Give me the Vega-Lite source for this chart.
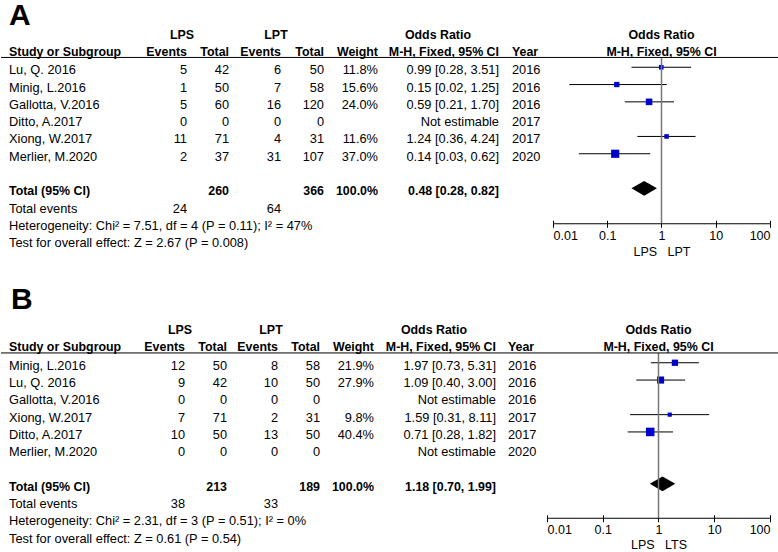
{
"$schema":"https://vega.github.io/schema/vega-lite/v6.json",
"background":"white",
"padding":{"left":0,"top":1,"right":0,"bottom":0},
"spacing":25.5,
"datasets":{
"A":[
{"label":"Lu, Q. 2016","kind":"study","e1":5,"n1":42,"e2":6,"n2":50,"weight":0.118,"or":0.99,"lo":0.28,"hi":3.51,"year":2016},
{"label":"Minig, L.2016","kind":"study","e1":1,"n1":50,"e2":7,"n2":58,"weight":0.156,"or":0.15,"lo":0.02,"hi":1.25,"year":2016},
{"label":"Gallotta, V.2016","kind":"study","e1":5,"n1":60,"e2":16,"n2":120,"weight":0.24,"or":0.59,"lo":0.21,"hi":1.70,"year":2016},
{"label":"Ditto, A.2017","kind":"study","e1":0,"n1":0,"e2":0,"n2":0,"year":2017},
{"label":"Xiong, W.2017","kind":"study","e1":11,"n1":71,"e2":4,"n2":31,"weight":0.116,"or":1.24,"lo":0.36,"hi":4.24,"year":2017},
{"label":"Merlier, M.2020","kind":"study","e1":2,"n1":37,"e2":31,"n2":107,"weight":0.37,"or":0.14,"lo":0.03,"hi":0.62,"year":2020},
{"label":"Total (95% CI)","kind":"total","n1":260,"n2":366,"weight":1.0,"or":0.48,"lo":0.28,"hi":0.82},
{"label":"Total events","kind":"events","e1":24,"e2":64},
{"label":"Heterogeneity: Chi² = 7.51, df = 4 (P = 0.11); I² = 47%","kind":"note"},
{"label":"Test for overall effect: Z = 2.67 (P = 0.008)","kind":"note"}
],
"B":[
{"label":"Minig, L.2016","kind":"study","e1":12,"n1":50,"e2":8,"n2":58,"weight":0.219,"or":1.97,"lo":0.73,"hi":5.31,"year":2016},
{"label":"Lu, Q. 2016","kind":"study","e1":9,"n1":42,"e2":10,"n2":50,"weight":0.279,"or":1.09,"lo":0.40,"hi":3.00,"year":2016},
{"label":"Gallotta, V.2016","kind":"study","e1":0,"n1":0,"e2":0,"n2":0,"year":2016},
{"label":"Xiong, W.2017","kind":"study","e1":7,"n1":71,"e2":2,"n2":31,"weight":0.098,"or":1.59,"lo":0.31,"hi":8.11,"year":2017},
{"label":"Ditto, A.2017","kind":"study","e1":10,"n1":50,"e2":13,"n2":50,"weight":0.404,"or":0.71,"lo":0.28,"hi":1.82,"year":2017},
{"label":"Merlier, M.2020","kind":"study","e1":0,"n1":0,"e2":0,"n2":0,"year":2020},
{"label":"Total (95% CI)","kind":"total","n1":213,"n2":189,"weight":1.0,"or":1.18,"lo":0.70,"hi":1.99},
{"label":"Total events","kind":"events","e1":38,"e2":33},
{"label":"Heterogeneity: Chi² = 2.31, df = 3 (P = 0.51); I² = 0%","kind":"note"},
{"label":"Test for overall effect: Z = 0.61 (P = 0.54)","kind":"note"}
]
},
"vconcat":[
{"spacing":0,"bounds":"flush","hconcat":[
{"width":140,"height":224.9,"data":{"name":"A"},
 "encoding":{"y":{"field":"label","type":"nominal","axis":null,"scale":{"type":"point","padding":0.5,"domain":["h1","h2","Lu, Q. 2016","Minig, L.2016","Gallotta, V.2016","Ditto, A.2017","Xiong, W.2017","Merlier, M.2020","blank","Total (95% CI)","Total events","Heterogeneity: Chi² = 7.51, df = 4 (P = 0.11); I² = 47%","Test for overall effect: Z = 2.67 (P = 0.008)"]}}},
 "layer":[
  {"transform":[{"filter":"datum.kind != 'total'"}],"mark":{"type":"text","align":"left","dx":3},"encoding":{"x":{"datum":0,"type":"quantitative","scale":{"domain":[0,1]},"axis":null},"text":{"field":"label"}}},
  {"transform":[{"filter":"datum.kind == 'total'"}],"mark":{"type":"text","align":"left","dx":3,"fontWeight":"bold","fontSize":12.4},"encoding":{"x":{"datum":0,"type":"quantitative","axis":null},"text":{"field":"label"}}},
  {"data":{"values":[{}]},"mark":{"type":"text","align":"left","dx":3,"dy":-1,"fontWeight":"bold","fontSize":12.4},"encoding":{"x":{"datum":0,"type":"quantitative","axis":null},"y":{"datum":"h2","type":"nominal"},"text":{"value":"Study or Subgroup"}}},
  {"data":{"values":[{}]},"mark":{"type":"text","align":"left","dx":3,"dy":-19.4,"fontWeight":"bold","fontSize":30},"encoding":{"x":{"datum":0,"type":"quantitative","axis":null},"y":{"datum":"h1","type":"nominal"},"text":{"value":"A"}}},
  {"data":{"values":[{}]},"mark":{"type":"rule","color":"#000","strokeWidth":1,"yOffset":4.5,"xOffset":-5},"encoding":{"x":{"datum":0,"type":"quantitative","axis":null},"x2":{"datum":1},"y":{"datum":"h2","type":"nominal"}}}
 ]},
{"width":41,"height":224.9,"data":{"name":"A"},
 "encoding":{"y":{"field":"label","type":"nominal","axis":null,"scale":{"type":"point","padding":0.5,"domain":["h1","h2","Lu, Q. 2016","Minig, L.2016","Gallotta, V.2016","Ditto, A.2017","Xiong, W.2017","Merlier, M.2020","blank","Total (95% CI)","Total events","Heterogeneity: Chi² = 7.51, df = 4 (P = 0.11); I² = 47%","Test for overall effect: Z = 2.67 (P = 0.008)"]}}},
 "layer":[
  {"transform":[{"filter":"isValid(datum.e1)"}],"mark":{"type":"text","align":"right"},"encoding":{"x":{"datum":1,"type":"quantitative","scale":{"domain":[0,1]},"axis":null},"text":{"field":"e1","type":"nominal"}}},
  {"data":{"values":[{}]},"mark":{"type":"text","align":"right","dy":-1,"fontWeight":"bold","fontSize":12.4},"encoding":{"x":{"datum":1,"type":"quantitative","axis":null},"y":{"datum":"h2","type":"nominal"},"text":{"value":"Events"}}},
  {"data":{"values":[{}]},"mark":{"type":"text","align":"center","dx":-5,"dy":-1,"fontWeight":"bold","fontSize":12.4},"encoding":{"x":{"datum":1,"type":"quantitative","axis":null},"y":{"datum":"h1","type":"nominal"},"text":{"value":"LPS"}}},
  {"data":{"values":[{}]},"mark":{"type":"rule","color":"#000","strokeWidth":1,"yOffset":4.5},"encoding":{"y":{"datum":"h2","type":"nominal"}}}
 ]},
{"width":42,"height":224.9,"data":{"name":"A"},
 "encoding":{"y":{"field":"label","type":"nominal","axis":null,"scale":{"type":"point","padding":0.5,"domain":["h1","h2","Lu, Q. 2016","Minig, L.2016","Gallotta, V.2016","Ditto, A.2017","Xiong, W.2017","Merlier, M.2020","blank","Total (95% CI)","Total events","Heterogeneity: Chi² = 7.51, df = 4 (P = 0.11); I² = 47%","Test for overall effect: Z = 2.67 (P = 0.008)"]}}},
 "layer":[
  {"transform":[{"filter":"datum.kind == 'study'"}],"mark":{"type":"text","align":"right"},"encoding":{"x":{"datum":1,"type":"quantitative","scale":{"domain":[0,1]},"axis":null},"text":{"field":"n1","type":"nominal"}}},
  {"transform":[{"filter":"datum.kind == 'total'"}],"mark":{"type":"text","align":"right","fontWeight":"bold","fontSize":12.4},"encoding":{"x":{"datum":1,"type":"quantitative","axis":null},"text":{"field":"n1","type":"nominal"}}},
  {"data":{"values":[{}]},"mark":{"type":"text","align":"right","dy":-1,"fontWeight":"bold","fontSize":12.4},"encoding":{"x":{"datum":1,"type":"quantitative","axis":null},"y":{"datum":"h2","type":"nominal"},"text":{"value":"Total"}}},
  {"data":{"values":[{}]},"mark":{"type":"rule","color":"#000","strokeWidth":1,"yOffset":4.5},"encoding":{"y":{"datum":"h2","type":"nominal"}}}
 ]},
{"width":52,"height":224.9,"data":{"name":"A"},
 "encoding":{"y":{"field":"label","type":"nominal","axis":null,"scale":{"type":"point","padding":0.5,"domain":["h1","h2","Lu, Q. 2016","Minig, L.2016","Gallotta, V.2016","Ditto, A.2017","Xiong, W.2017","Merlier, M.2020","blank","Total (95% CI)","Total events","Heterogeneity: Chi² = 7.51, df = 4 (P = 0.11); I² = 47%","Test for overall effect: Z = 2.67 (P = 0.008)"]}}},
 "layer":[
  {"transform":[{"filter":"isValid(datum.e2)"}],"mark":{"type":"text","align":"right"},"encoding":{"x":{"datum":1,"type":"quantitative","scale":{"domain":[0,1]},"axis":null},"text":{"field":"e2","type":"nominal"}}},
  {"data":{"values":[{}]},"mark":{"type":"text","align":"right","dy":-1,"fontWeight":"bold","fontSize":12.4},"encoding":{"x":{"datum":1,"type":"quantitative","axis":null},"y":{"datum":"h2","type":"nominal"},"text":{"value":"Events"}}},
  {"data":{"values":[{}]},"mark":{"type":"text","align":"center","dx":-5,"dy":-1,"fontWeight":"bold","fontSize":12.4},"encoding":{"x":{"datum":1,"type":"quantitative","axis":null},"y":{"datum":"h1","type":"nominal"},"text":{"value":"LPT"}}},
  {"data":{"values":[{}]},"mark":{"type":"rule","color":"#000","strokeWidth":1,"yOffset":4.5},"encoding":{"y":{"datum":"h2","type":"nominal"}}}
 ]},
{"width":43,"height":224.9,"data":{"name":"A"},
 "encoding":{"y":{"field":"label","type":"nominal","axis":null,"scale":{"type":"point","padding":0.5,"domain":["h1","h2","Lu, Q. 2016","Minig, L.2016","Gallotta, V.2016","Ditto, A.2017","Xiong, W.2017","Merlier, M.2020","blank","Total (95% CI)","Total events","Heterogeneity: Chi² = 7.51, df = 4 (P = 0.11); I² = 47%","Test for overall effect: Z = 2.67 (P = 0.008)"]}}},
 "layer":[
  {"transform":[{"filter":"datum.kind == 'study'"}],"mark":{"type":"text","align":"right"},"encoding":{"x":{"datum":1,"type":"quantitative","scale":{"domain":[0,1]},"axis":null},"text":{"field":"n2","type":"nominal"}}},
  {"transform":[{"filter":"datum.kind == 'total'"}],"mark":{"type":"text","align":"right","fontWeight":"bold","fontSize":12.4},"encoding":{"x":{"datum":1,"type":"quantitative","axis":null},"text":{"field":"n2","type":"nominal"}}},
  {"data":{"values":[{}]},"mark":{"type":"text","align":"right","dy":-1,"fontWeight":"bold","fontSize":12.4},"encoding":{"x":{"datum":1,"type":"quantitative","axis":null},"y":{"datum":"h2","type":"nominal"},"text":{"value":"Total"}}},
  {"data":{"values":[{}]},"mark":{"type":"rule","color":"#000","strokeWidth":1,"yOffset":4.5},"encoding":{"y":{"datum":"h2","type":"nominal"}}}
 ]},
{"width":54,"height":224.9,"data":{"name":"A"},
 "encoding":{"y":{"field":"label","type":"nominal","axis":null,"scale":{"type":"point","padding":0.5,"domain":["h1","h2","Lu, Q. 2016","Minig, L.2016","Gallotta, V.2016","Ditto, A.2017","Xiong, W.2017","Merlier, M.2020","blank","Total (95% CI)","Total events","Heterogeneity: Chi² = 7.51, df = 4 (P = 0.11); I² = 47%","Test for overall effect: Z = 2.67 (P = 0.008)"]}}},
 "layer":[
  {"transform":[{"filter":"datum.kind == 'study' && isValid(datum.weight)"}],"mark":{"type":"text","align":"right"},"encoding":{"x":{"datum":1,"type":"quantitative","scale":{"domain":[0,1]},"axis":null},"text":{"field":"weight","type":"quantitative","format":".1%"}}},
  {"transform":[{"filter":"datum.kind == 'total'"}],"mark":{"type":"text","align":"right","fontWeight":"bold","fontSize":12.4},"encoding":{"x":{"datum":1,"type":"quantitative","axis":null},"text":{"field":"weight","type":"quantitative","format":".1%"}}},
  {"data":{"values":[{}]},"mark":{"type":"text","align":"right","dy":-1,"fontWeight":"bold","fontSize":12.4},"encoding":{"x":{"datum":1,"type":"quantitative","axis":null},"y":{"datum":"h2","type":"nominal"},"text":{"value":"Weight"}}},
  {"data":{"values":[{}]},"mark":{"type":"rule","color":"#000","strokeWidth":1,"yOffset":4.5},"encoding":{"y":{"datum":"h2","type":"nominal"}}}
 ]},
{"width":121,"height":224.9,"data":{"name":"A"},
 "encoding":{"y":{"field":"label","type":"nominal","axis":null,"scale":{"type":"point","padding":0.5,"domain":["h1","h2","Lu, Q. 2016","Minig, L.2016","Gallotta, V.2016","Ditto, A.2017","Xiong, W.2017","Merlier, M.2020","blank","Total (95% CI)","Total events","Heterogeneity: Chi² = 7.51, df = 4 (P = 0.11); I² = 47%","Test for overall effect: Z = 2.67 (P = 0.008)"]}}},
 "layer":[
  {"transform":[{"filter":"datum.kind == 'study'"},{"calculate":"isValid(datum.or) ? format(datum.or,'.2f') + ' [' + format(datum.lo,'.2f') + ', ' + format(datum.hi,'.2f') + ']' : 'Not estimable'","as":"ci"}],"mark":{"type":"text","align":"right"},"encoding":{"x":{"datum":1,"type":"quantitative","scale":{"domain":[0,1]},"axis":null},"text":{"field":"ci"}}},
  {"transform":[{"filter":"datum.kind == 'total'"},{"calculate":"format(datum.or,'.2f') + ' [' + format(datum.lo,'.2f') + ', ' + format(datum.hi,'.2f') + ']'","as":"ci"}],"mark":{"type":"text","align":"right","fontWeight":"bold","fontSize":12.4},"encoding":{"x":{"datum":1,"type":"quantitative","axis":null},"text":{"field":"ci"}}},
  {"data":{"values":[{}]},"mark":{"type":"text","align":"right","dy":-1,"fontWeight":"bold","fontSize":12.4},"encoding":{"x":{"datum":1,"type":"quantitative","axis":null},"y":{"datum":"h2","type":"nominal"},"text":{"value":"M-H, Fixed, 95% CI"}}},
  {"data":{"values":[{}]},"mark":{"type":"text","align":"right","dx":-28,"dy":-1,"fontWeight":"bold","fontSize":12.4},"encoding":{"x":{"datum":1,"type":"quantitative","axis":null},"y":{"datum":"h1","type":"nominal"},"text":{"value":"Odds Ratio"}}},
  {"data":{"values":[{}]},"mark":{"type":"rule","color":"#000","strokeWidth":1,"yOffset":4.5},"encoding":{"y":{"datum":"h2","type":"nominal"}}}
 ]},
{"width":54,"height":224.9,"data":{"name":"A"},
 "encoding":{"y":{"field":"label","type":"nominal","axis":null,"scale":{"type":"point","padding":0.5,"domain":["h1","h2","Lu, Q. 2016","Minig, L.2016","Gallotta, V.2016","Ditto, A.2017","Xiong, W.2017","Merlier, M.2020","blank","Total (95% CI)","Total events","Heterogeneity: Chi² = 7.51, df = 4 (P = 0.11); I² = 47%","Test for overall effect: Z = 2.67 (P = 0.008)"]}}},
 "layer":[
  {"transform":[{"filter":"datum.kind == 'study'"}],"mark":{"type":"text","align":"left","dx":13},"encoding":{"x":{"datum":0,"type":"quantitative","scale":{"domain":[0,1]},"axis":null},"text":{"field":"year","type":"nominal"}}},
  {"data":{"values":[{}]},"mark":{"type":"text","align":"left","dx":13,"dy":-1,"fontWeight":"bold","fontSize":12.4},"encoding":{"x":{"datum":0,"type":"quantitative","axis":null},"y":{"datum":"h2","type":"nominal"},"text":{"value":"Year"}}},
  {"data":{"values":[{}]},"mark":{"type":"rule","color":"#000","strokeWidth":1,"yOffset":4.5},"encoding":{"y":{"datum":"h2","type":"nominal"}}}
 ]},
{"width":217,"height":224.9,"data":{"name":"A"},
 "encoding":{"y":{"field":"label","type":"nominal","axis":null,"scale":{"type":"point","padding":0.5,"domain":["h1","h2","Lu, Q. 2016","Minig, L.2016","Gallotta, V.2016","Ditto, A.2017","Xiong, W.2017","Merlier, M.2020","blank","Total (95% CI)","Total events","Heterogeneity: Chi² = 7.51, df = 4 (P = 0.11); I² = 47%","Test for overall effect: Z = 2.67 (P = 0.008)"]}}},
 "resolve":{"axis":{"x":"independent"}},
 "layer":[
  {"transform":[{"filter":"datum.kind == 'study' && isValid(datum.or)"}],"mark":{"type":"rule","color":"#000","strokeWidth":1,"yOffset":-3},"encoding":{"x":{"field":"lo","type":"quantitative","scale":{"type":"log","domain":[0.01,100]},"axis":{"values":[0.01,0.1,1,10,100],"format":"~g","offset":-28.65,"tickSize":4,"labelPadding":2,"title":"LPS\u00a0\u00a0\u00a0LPT","titlePadding":4}},"x2":{"field":"hi"}}},
  {"transform":[{"filter":"datum.kind == 'study' && isValid(datum.or)"}],"mark":{"type":"square","filled":true,"color":"#0000cc","opacity":1,"yOffset":-3},"encoding":{"x":{"field":"or","type":"quantitative","axis":{"orient":"top","values":[0.01,0.1,1,10,100],"offset":-196.25,"labels":false,"domain":false,"tickSize":3,"title":null}},"size":{"field":"weight","type":"quantitative","scale":{"domain":[0,0.4],"range":[0,72]},"legend":null}}},
  {"transform":[{"filter":"datum.kind == 'total'"}],"mark":{"type":"point","shape":"M-1,0L0,-0.58L1,0L0,0.58Z","filled":true,"color":"#000","opacity":1,"size":650,"yOffset":-3},"encoding":{"x":{"field":"or","type":"quantitative","axis":null}}},
  {"data":{"values":[{}]},"mark":{"type":"rule","color":"#777","strokeWidth":1.5,"yOffset":4.5,"y2Offset":14.6},"encoding":{"x":{"datum":1,"type":"quantitative","axis":null},"y":{"datum":"h2","type":"nominal"},"y2":{"datum":"Total events"}}},
  {"data":{"values":[{}]},"mark":{"type":"text","align":"center","dy":-1,"fontWeight":"bold","fontSize":12.4},"encoding":{"x":{"datum":1,"type":"quantitative","axis":null},"y":{"datum":"h1","type":"nominal"},"text":{"value":"Odds Ratio"}}},
  {"data":{"values":[{}]},"mark":{"type":"text","align":"center","dy":-1,"fontWeight":"bold","fontSize":12.4},"encoding":{"x":{"datum":1,"type":"quantitative","axis":null},"y":{"datum":"h2","type":"nominal"},"text":{"value":"M-H, Fixed, 95% CI"}}},
  {"data":{"values":[{}]},"mark":{"type":"rule","color":"#000","strokeWidth":1,"yOffset":4.5,"x2Offset":9},"encoding":{"x":{"datum":0.01,"type":"quantitative","axis":null},"x2":{"datum":100},"y":{"datum":"h2","type":"nominal"}}}
 ]}
]},
{"spacing":0,"bounds":"flush","hconcat":[
{"width":138,"height":224.9,"data":{"name":"B"},
 "encoding":{"y":{"field":"label","type":"nominal","axis":null,"scale":{"type":"point","padding":0.5,"domain":["h1","h2","Minig, L.2016","Lu, Q. 2016","Gallotta, V.2016","Xiong, W.2017","Ditto, A.2017","Merlier, M.2020","blank","Total (95% CI)","Total events","Heterogeneity: Chi² = 2.31, df = 3 (P = 0.51); I² = 0%","Test for overall effect: Z = 0.61 (P = 0.54)"]}}},
 "layer":[
  {"transform":[{"filter":"datum.kind != 'total'"}],"mark":{"type":"text","align":"left","dx":3},"encoding":{"x":{"datum":0,"type":"quantitative","scale":{"domain":[0,1]},"axis":null},"text":{"field":"label"}}},
  {"transform":[{"filter":"datum.kind == 'total'"}],"mark":{"type":"text","align":"left","dx":3,"fontWeight":"bold","fontSize":12.4},"encoding":{"x":{"datum":0,"type":"quantitative","axis":null},"text":{"field":"label"}}},
  {"data":{"values":[{}]},"mark":{"type":"text","align":"left","dx":3,"dy":-1,"fontWeight":"bold","fontSize":12.4},"encoding":{"x":{"datum":0,"type":"quantitative","axis":null},"y":{"datum":"h2","type":"nominal"},"text":{"value":"Study or Subgroup"}}},
  {"data":{"values":[{}]},"mark":{"type":"text","align":"left","dx":5,"dy":-31.4,"fontWeight":"bold","fontSize":30},"encoding":{"x":{"datum":0,"type":"quantitative","axis":null},"y":{"datum":"h1","type":"nominal"},"text":{"value":"B"}}},
  {"data":{"values":[{}]},"mark":{"type":"rule","color":"#000","strokeWidth":1,"yOffset":4.5,"xOffset":-5},"encoding":{"x":{"datum":0,"type":"quantitative","axis":null},"x2":{"datum":1},"y":{"datum":"h2","type":"nominal"}}}
 ]},
{"width":41,"height":224.9,"data":{"name":"B"},
 "encoding":{"y":{"field":"label","type":"nominal","axis":null,"scale":{"type":"point","padding":0.5,"domain":["h1","h2","Minig, L.2016","Lu, Q. 2016","Gallotta, V.2016","Xiong, W.2017","Ditto, A.2017","Merlier, M.2020","blank","Total (95% CI)","Total events","Heterogeneity: Chi² = 2.31, df = 3 (P = 0.51); I² = 0%","Test for overall effect: Z = 0.61 (P = 0.54)"]}}},
 "layer":[
  {"transform":[{"filter":"isValid(datum.e1)"}],"mark":{"type":"text","align":"right"},"encoding":{"x":{"datum":1,"type":"quantitative","scale":{"domain":[0,1]},"axis":null},"text":{"field":"e1","type":"nominal"}}},
  {"data":{"values":[{}]},"mark":{"type":"text","align":"right","dy":-1,"fontWeight":"bold","fontSize":12.4},"encoding":{"x":{"datum":1,"type":"quantitative","axis":null},"y":{"datum":"h2","type":"nominal"},"text":{"value":"Events"}}},
  {"data":{"values":[{}]},"mark":{"type":"text","align":"center","dx":-5,"dy":-1,"fontWeight":"bold","fontSize":12.4},"encoding":{"x":{"datum":1,"type":"quantitative","axis":null},"y":{"datum":"h1","type":"nominal"},"text":{"value":"LPS"}}},
  {"data":{"values":[{}]},"mark":{"type":"rule","color":"#000","strokeWidth":1,"yOffset":4.5},"encoding":{"y":{"datum":"h2","type":"nominal"}}}
 ]},
{"width":42,"height":224.9,"data":{"name":"B"},
 "encoding":{"y":{"field":"label","type":"nominal","axis":null,"scale":{"type":"point","padding":0.5,"domain":["h1","h2","Minig, L.2016","Lu, Q. 2016","Gallotta, V.2016","Xiong, W.2017","Ditto, A.2017","Merlier, M.2020","blank","Total (95% CI)","Total events","Heterogeneity: Chi² = 2.31, df = 3 (P = 0.51); I² = 0%","Test for overall effect: Z = 0.61 (P = 0.54)"]}}},
 "layer":[
  {"transform":[{"filter":"datum.kind == 'study'"}],"mark":{"type":"text","align":"right"},"encoding":{"x":{"datum":1,"type":"quantitative","scale":{"domain":[0,1]},"axis":null},"text":{"field":"n1","type":"nominal"}}},
  {"transform":[{"filter":"datum.kind == 'total'"}],"mark":{"type":"text","align":"right","fontWeight":"bold","fontSize":12.4},"encoding":{"x":{"datum":1,"type":"quantitative","axis":null},"text":{"field":"n1","type":"nominal"}}},
  {"data":{"values":[{}]},"mark":{"type":"text","align":"right","dy":-1,"fontWeight":"bold","fontSize":12.4},"encoding":{"x":{"datum":1,"type":"quantitative","axis":null},"y":{"datum":"h2","type":"nominal"},"text":{"value":"Total"}}},
  {"data":{"values":[{}]},"mark":{"type":"rule","color":"#000","strokeWidth":1,"yOffset":4.5},"encoding":{"y":{"datum":"h2","type":"nominal"}}}
 ]},
{"width":51,"height":224.9,"data":{"name":"B"},
 "encoding":{"y":{"field":"label","type":"nominal","axis":null,"scale":{"type":"point","padding":0.5,"domain":["h1","h2","Minig, L.2016","Lu, Q. 2016","Gallotta, V.2016","Xiong, W.2017","Ditto, A.2017","Merlier, M.2020","blank","Total (95% CI)","Total events","Heterogeneity: Chi² = 2.31, df = 3 (P = 0.51); I² = 0%","Test for overall effect: Z = 0.61 (P = 0.54)"]}}},
 "layer":[
  {"transform":[{"filter":"isValid(datum.e2)"}],"mark":{"type":"text","align":"right"},"encoding":{"x":{"datum":1,"type":"quantitative","scale":{"domain":[0,1]},"axis":null},"text":{"field":"e2","type":"nominal"}}},
  {"data":{"values":[{}]},"mark":{"type":"text","align":"right","dy":-1,"fontWeight":"bold","fontSize":12.4},"encoding":{"x":{"datum":1,"type":"quantitative","axis":null},"y":{"datum":"h2","type":"nominal"},"text":{"value":"Events"}}},
  {"data":{"values":[{}]},"mark":{"type":"text","align":"center","dx":-7,"dy":-1,"fontWeight":"bold","fontSize":12.4},"encoding":{"x":{"datum":1,"type":"quantitative","axis":null},"y":{"datum":"h1","type":"nominal"},"text":{"value":"LPT"}}},
  {"data":{"values":[{}]},"mark":{"type":"rule","color":"#000","strokeWidth":1,"yOffset":4.5},"encoding":{"y":{"datum":"h2","type":"nominal"}}}
 ]},
{"width":42,"height":224.9,"data":{"name":"B"},
 "encoding":{"y":{"field":"label","type":"nominal","axis":null,"scale":{"type":"point","padding":0.5,"domain":["h1","h2","Minig, L.2016","Lu, Q. 2016","Gallotta, V.2016","Xiong, W.2017","Ditto, A.2017","Merlier, M.2020","blank","Total (95% CI)","Total events","Heterogeneity: Chi² = 2.31, df = 3 (P = 0.51); I² = 0%","Test for overall effect: Z = 0.61 (P = 0.54)"]}}},
 "layer":[
  {"transform":[{"filter":"datum.kind == 'study'"}],"mark":{"type":"text","align":"right"},"encoding":{"x":{"datum":1,"type":"quantitative","scale":{"domain":[0,1]},"axis":null},"text":{"field":"n2","type":"nominal"}}},
  {"transform":[{"filter":"datum.kind == 'total'"}],"mark":{"type":"text","align":"right","fontWeight":"bold","fontSize":12.4},"encoding":{"x":{"datum":1,"type":"quantitative","axis":null},"text":{"field":"n2","type":"nominal"}}},
  {"data":{"values":[{}]},"mark":{"type":"text","align":"right","dy":-1,"fontWeight":"bold","fontSize":12.4},"encoding":{"x":{"datum":1,"type":"quantitative","axis":null},"y":{"datum":"h2","type":"nominal"},"text":{"value":"Total"}}},
  {"data":{"values":[{}]},"mark":{"type":"rule","color":"#000","strokeWidth":1,"yOffset":4.5},"encoding":{"y":{"datum":"h2","type":"nominal"}}}
 ]},
{"width":54,"height":224.9,"data":{"name":"B"},
 "encoding":{"y":{"field":"label","type":"nominal","axis":null,"scale":{"type":"point","padding":0.5,"domain":["h1","h2","Minig, L.2016","Lu, Q. 2016","Gallotta, V.2016","Xiong, W.2017","Ditto, A.2017","Merlier, M.2020","blank","Total (95% CI)","Total events","Heterogeneity: Chi² = 2.31, df = 3 (P = 0.51); I² = 0%","Test for overall effect: Z = 0.61 (P = 0.54)"]}}},
 "layer":[
  {"transform":[{"filter":"datum.kind == 'study' && isValid(datum.weight)"}],"mark":{"type":"text","align":"right"},"encoding":{"x":{"datum":1,"type":"quantitative","scale":{"domain":[0,1]},"axis":null},"text":{"field":"weight","type":"quantitative","format":".1%"}}},
  {"transform":[{"filter":"datum.kind == 'total'"}],"mark":{"type":"text","align":"right","fontWeight":"bold","fontSize":12.4},"encoding":{"x":{"datum":1,"type":"quantitative","axis":null},"text":{"field":"weight","type":"quantitative","format":".1%"}}},
  {"data":{"values":[{}]},"mark":{"type":"text","align":"right","dy":-1,"fontWeight":"bold","fontSize":12.4},"encoding":{"x":{"datum":1,"type":"quantitative","axis":null},"y":{"datum":"h2","type":"nominal"},"text":{"value":"Weight"}}},
  {"data":{"values":[{}]},"mark":{"type":"rule","color":"#000","strokeWidth":1,"yOffset":4.5},"encoding":{"y":{"datum":"h2","type":"nominal"}}}
 ]},
{"width":122,"height":224.9,"data":{"name":"B"},
 "encoding":{"y":{"field":"label","type":"nominal","axis":null,"scale":{"type":"point","padding":0.5,"domain":["h1","h2","Minig, L.2016","Lu, Q. 2016","Gallotta, V.2016","Xiong, W.2017","Ditto, A.2017","Merlier, M.2020","blank","Total (95% CI)","Total events","Heterogeneity: Chi² = 2.31, df = 3 (P = 0.51); I² = 0%","Test for overall effect: Z = 0.61 (P = 0.54)"]}}},
 "layer":[
  {"transform":[{"filter":"datum.kind == 'study'"},{"calculate":"isValid(datum.or) ? format(datum.or,'.2f') + ' [' + format(datum.lo,'.2f') + ', ' + format(datum.hi,'.2f') + ']' : 'Not estimable'","as":"ci"}],"mark":{"type":"text","align":"right"},"encoding":{"x":{"datum":1,"type":"quantitative","scale":{"domain":[0,1]},"axis":null},"text":{"field":"ci"}}},
  {"transform":[{"filter":"datum.kind == 'total'"},{"calculate":"format(datum.or,'.2f') + ' [' + format(datum.lo,'.2f') + ', ' + format(datum.hi,'.2f') + ']'","as":"ci"}],"mark":{"type":"text","align":"right","fontWeight":"bold","fontSize":12.4},"encoding":{"x":{"datum":1,"type":"quantitative","axis":null},"text":{"field":"ci"}}},
  {"data":{"values":[{}]},"mark":{"type":"text","align":"right","dy":-1,"fontWeight":"bold","fontSize":12.4},"encoding":{"x":{"datum":1,"type":"quantitative","axis":null},"y":{"datum":"h2","type":"nominal"},"text":{"value":"M-H, Fixed, 95% CI"}}},
  {"data":{"values":[{}]},"mark":{"type":"text","align":"right","dx":-29,"dy":-1,"fontWeight":"bold","fontSize":12.4},"encoding":{"x":{"datum":1,"type":"quantitative","axis":null},"y":{"datum":"h1","type":"nominal"},"text":{"value":"Odds Ratio"}}},
  {"data":{"values":[{}]},"mark":{"type":"rule","color":"#000","strokeWidth":1,"yOffset":4.5},"encoding":{"y":{"datum":"h2","type":"nominal"}}}
 ]},
{"width":51,"height":224.9,"data":{"name":"B"},
 "encoding":{"y":{"field":"label","type":"nominal","axis":null,"scale":{"type":"point","padding":0.5,"domain":["h1","h2","Minig, L.2016","Lu, Q. 2016","Gallotta, V.2016","Xiong, W.2017","Ditto, A.2017","Merlier, M.2020","blank","Total (95% CI)","Total events","Heterogeneity: Chi² = 2.31, df = 3 (P = 0.51); I² = 0%","Test for overall effect: Z = 0.61 (P = 0.54)"]}}},
 "layer":[
  {"transform":[{"filter":"datum.kind == 'study'"}],"mark":{"type":"text","align":"left","dx":12},"encoding":{"x":{"datum":0,"type":"quantitative","scale":{"domain":[0,1]},"axis":null},"text":{"field":"year","type":"nominal"}}},
  {"data":{"values":[{}]},"mark":{"type":"text","align":"left","dx":12,"dy":-1,"fontWeight":"bold","fontSize":12.4},"encoding":{"x":{"datum":0,"type":"quantitative","axis":null},"y":{"datum":"h2","type":"nominal"},"text":{"value":"Year"}}},
  {"data":{"values":[{}]},"mark":{"type":"rule","color":"#000","strokeWidth":1,"yOffset":4.5},"encoding":{"y":{"datum":"h2","type":"nominal"}}}
 ]},
{"width":223,"height":224.9,"data":{"name":"B"},
 "encoding":{"y":{"field":"label","type":"nominal","axis":null,"scale":{"type":"point","padding":0.5,"domain":["h1","h2","Minig, L.2016","Lu, Q. 2016","Gallotta, V.2016","Xiong, W.2017","Ditto, A.2017","Merlier, M.2020","blank","Total (95% CI)","Total events","Heterogeneity: Chi² = 2.31, df = 3 (P = 0.51); I² = 0%","Test for overall effect: Z = 0.61 (P = 0.54)"]}}},
 "resolve":{"axis":{"x":"independent"}},
 "layer":[
  {"transform":[{"filter":"datum.kind == 'study' && isValid(datum.or)"}],"mark":{"type":"rule","color":"#000","strokeWidth":1,"yOffset":-3},"encoding":{"x":{"field":"lo","type":"quantitative","scale":{"type":"log","domain":[0.01,100]},"axis":{"values":[0.01,0.1,1,10,100],"format":"~g","offset":-29.65,"tickSize":4,"labelPadding":2,"title":"LPS\u00a0\u00a0\u00a0LTS","titlePadding":2.5}},"x2":{"field":"hi"}}},
  {"transform":[{"filter":"datum.kind == 'study' && isValid(datum.or)"}],"mark":{"type":"square","filled":true,"color":"#0000cc","opacity":1,"yOffset":-3},"encoding":{"x":{"field":"or","type":"quantitative","axis":{"orient":"top","values":[0.01,0.1,1,10,100],"offset":-195.25,"labels":false,"domain":false,"tickSize":3,"title":null}},"size":{"field":"weight","type":"quantitative","scale":{"domain":[0,0.4],"range":[0,72]},"legend":null}}},
  {"transform":[{"filter":"datum.kind == 'total'"}],"mark":{"type":"point","shape":"M-1,0L0,-0.58L1,0L0,0.58Z","filled":true,"color":"#000","opacity":1,"size":650,"yOffset":-3},"encoding":{"x":{"field":"or","type":"quantitative","axis":null}}},
  {"data":{"values":[{}]},"mark":{"type":"rule","color":"#777","strokeWidth":1.5,"yOffset":4.5,"y2Offset":13.6},"encoding":{"x":{"datum":1,"type":"quantitative","axis":null},"y":{"datum":"h2","type":"nominal"},"y2":{"datum":"Total events"}}},
  {"data":{"values":[{}]},"mark":{"type":"text","align":"center","dy":-1,"fontWeight":"bold","fontSize":12.4},"encoding":{"x":{"datum":1,"type":"quantitative","axis":null},"y":{"datum":"h1","type":"nominal"},"text":{"value":"Odds Ratio"}}},
  {"data":{"values":[{}]},"mark":{"type":"text","align":"center","dy":-1,"fontWeight":"bold","fontSize":12.4},"encoding":{"x":{"datum":1,"type":"quantitative","axis":null},"y":{"datum":"h2","type":"nominal"},"text":{"value":"M-H, Fixed, 95% CI"}}},
  {"data":{"values":[{}]},"mark":{"type":"rule","color":"#000","strokeWidth":1,"yOffset":4.5,"x2Offset":9},"encoding":{"x":{"datum":0.01,"type":"quantitative","axis":null},"x2":{"datum":100},"y":{"datum":"h2","type":"nominal"}}}
 ]}
]}
],
"config":{
 "view":{"stroke":null},
 "font":"Liberation Sans",
 "text":{"fontSize":12.8,"color":"#000","font":"Liberation Sans"},
 "axis":{"domainColor":"#000","tickColor":"#000","labelColor":"#000","titleColor":"#000","labelFontSize":12.5,"titleFontSize":12.5,"titleFontWeight":"normal","grid":false,"labelFont":"Liberation Sans","titleFont":"Liberation Sans","domainWidth":1,"tickWidth":1}
}
}
